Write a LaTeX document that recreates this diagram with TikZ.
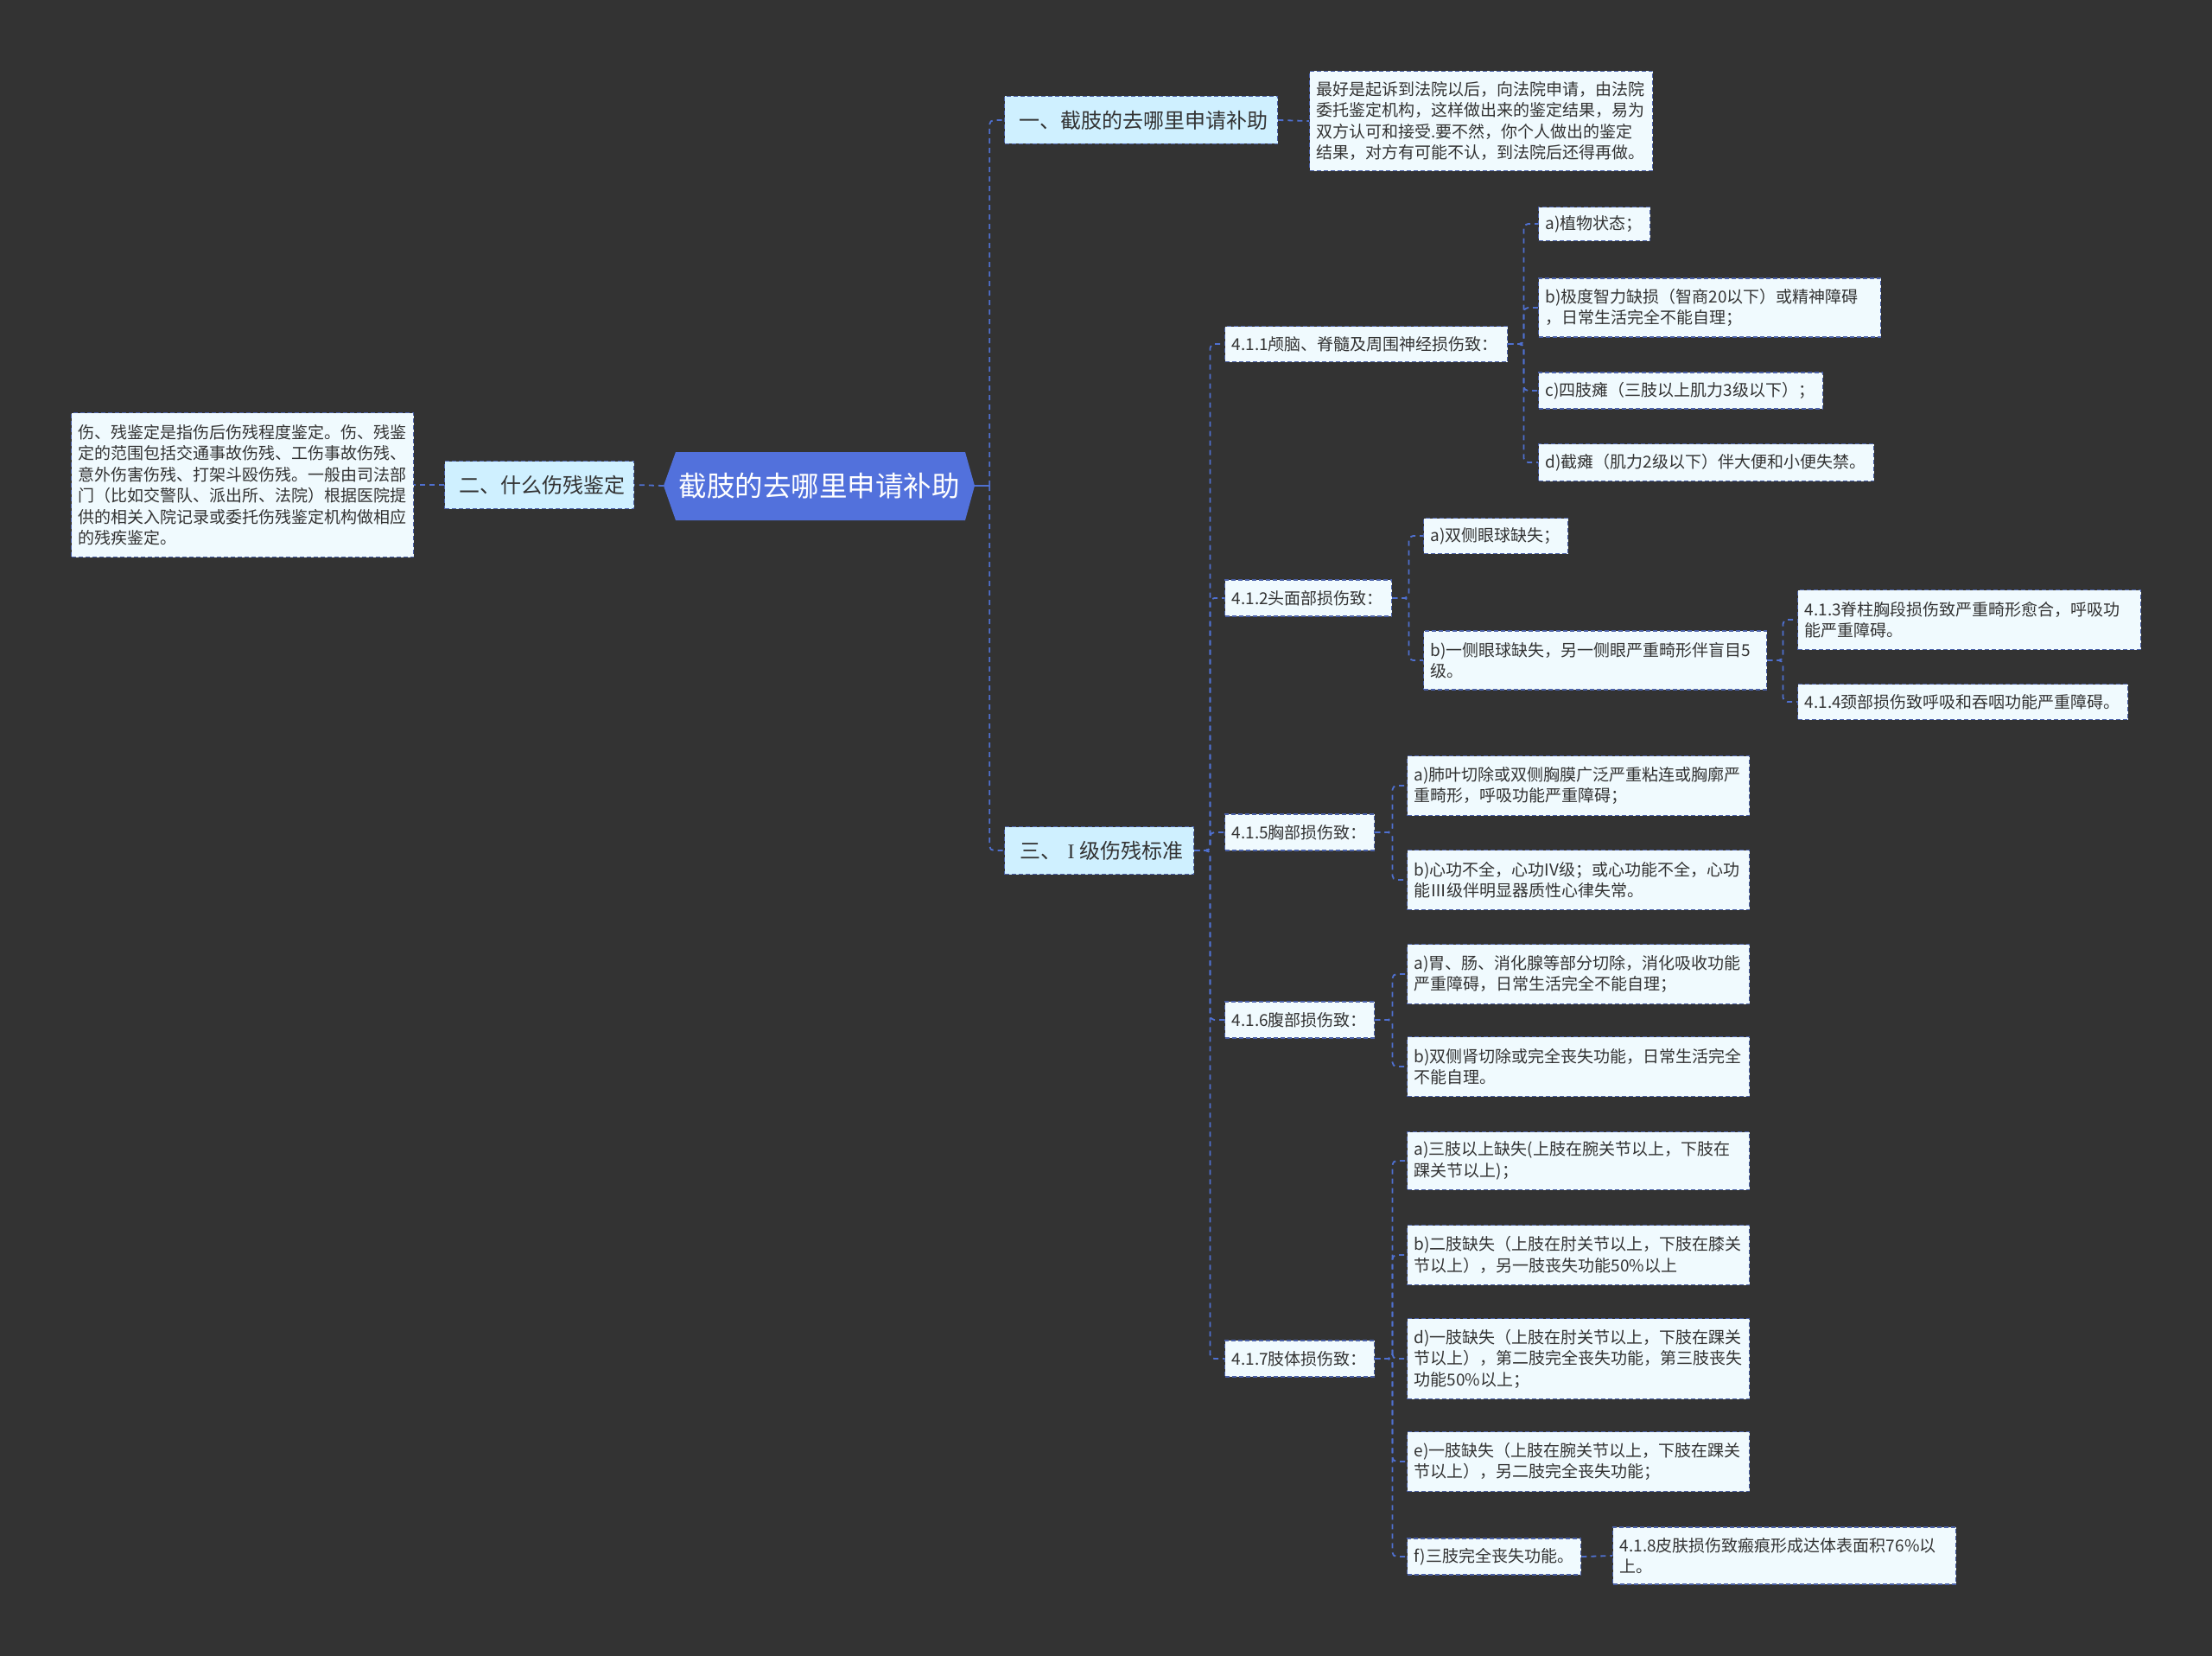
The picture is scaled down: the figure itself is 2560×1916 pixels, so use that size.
\documentclass[tikz,border=0pt]{standalone}
\usepackage{fontspec}
\setmainfont{Noto Sans CJK SC}
\newfontfamily\serifI{Liberation Serif}
\usetikzlibrary{calc}
\definecolor{bgc}{HTML}{333333}
\definecolor{leaffill}{HTML}{F0FAFE}
\definecolor{lvlfill}{HTML}{CFF0FF}
\definecolor{bordc}{HTML}{4B61A8}
\definecolor{connc}{HTML}{4F70D0}
\definecolor{txtc}{HTML}{333333}
\definecolor{rootc}{HTML}{5271DC}
\begin{document}
\begin{tikzpicture}[x=1pt,y=-1pt,
  leaf/.style={draw=bordc, line width=1.4pt, dash pattern=on 5pt off 3pt, fill=leaffill, text=txtc,
    font=\fontsize{19}{24.5}\selectfont, align=left, inner xsep=8pt, inner ysep=0pt, anchor=west},
  lvl/.style={draw=bordc, line width=1.4pt, dash pattern=on 5pt off 3pt, fill=lvlfill, text=txtc,
    font=\fontsize{24}{30}\selectfont, align=left, inner xsep=0pt, inner ysep=0pt, anchor=west,
    minimum height=55pt},
  conn/.style={draw=connc, line width=1.8pt, dash pattern=on 6pt off 5pt, rounded corners=5pt},
  solidc/.style={draw=connc, line width=2pt}
]
\fill[bgc] (0,0) rectangle (2560,1916);
\useasboundingbox (0,0) rectangle (2560,1916);

% root
\fill[rootc] (768,562) -- (782,523) -- (1117,523) -- (1128,562) -- (1117,602) -- (782,602) -- cycle;
\node[text=white, font=\fontsize{32.5}{38}\selectfont, minimum width=360pt, minimum height=79pt, inner sep=0pt] (root) at (948,562) {截肢的去哪里申请补助};

% level 1
\node[lvl, minimum width=219pt] (er) at (514,561) {\hspace*{6pt}二、什么伤残鉴定};
\node[lvl, minimum width=316pt] (yi) at (1162,139) {\hspace*{6pt}一、截肢的去哪里申请补助};
\node[lvl, minimum width=219pt] (san) at (1162,984) {\hspace*{6pt}三、\hspace{7pt}{\serifI I}\hspace{6pt}级伤残标准};

% texts
\node[leaf, text width=380pt, minimum height=167pt] (ertxt) at (82,561) {伤、残鉴定是指伤后伤残程度鉴定。伤、残鉴\\定的范围包括交通事故伤残、工伤事故伤残、\\意外伤害伤残、打架斗殴伤残。一般由司法部\\门（比如交警队、派出所、法院）根据医院提\\供的相关入院记录或委托伤残鉴定机构做相应\\的残疾鉴定。};
\node[leaf, text width=381pt, minimum height=115pt] (yitxt) at (1515,140) {最好是起诉到法院以后，向法院申请，由法院\\委托鉴定机构，这样做出来的鉴定结果，易为\\双方认可和接受.要不然，你个人做出的鉴定\\结果，对方有可能不认，到法院后还得再做。};

% 4.1.x
\node[leaf, text width=311pt, minimum height=41pt] (n411) at (1417,398) {4.1.1颅脑、脊髓及周围神经损伤致：};
\node[leaf, text width=113pt, minimum height=39pt] (a411) at (1780,259) {a)植物状态；};
\node[leaf, text width=380pt, minimum height=68pt] (b411) at (1780,356) {b)极度智力缺损（智商20以下）或精神障碍\\，日常生活完全不能自理；};
\node[leaf, text width=313pt, minimum height=42pt] (c411) at (1780,452) {c)四肢瘫（三肢以上肌力3级以下）；};
\node[leaf, text width=372pt, minimum height=43pt] (d411) at (1780,535) {d)截瘫（肌力2级以下）伴大便和小便失禁。};

\node[leaf, text width=177pt, minimum height=42pt] (n412) at (1417,692) {4.1.2头面部损伤致：};
\node[leaf, text width=151pt, minimum height=41pt] (a412) at (1647,620) {a)双侧眼球缺失；};
\node[leaf, text width=381pt, minimum height=68pt] (b412) at (1647,764) {b)一侧眼球缺失，另一侧眼严重畸形伴盲目5\\级。};
\node[leaf, text width=381pt, minimum height=69pt] (n413) at (2080,717) {4.1.3脊柱胸段损伤致严重畸形愈合，呼吸功\\能严重障碍。};
\node[leaf, text width=366pt, minimum height=41pt] (n414) at (2080,812) {4.1.4颈部损伤致呼吸和吞咽功能严重障碍。};

\node[leaf, text width=157pt, minimum height=42pt] (n415) at (1417,963) {4.1.5胸部损伤致：};
\node[leaf, text width=380pt, minimum height=69pt] (a415) at (1628,909) {a)肺叶切除或双侧胸膜广泛严重粘连或胸廓严\\重畸形，呼吸功能严重障碍；};
\node[leaf, text width=380pt, minimum height=69pt] (b415) at (1628,1018) {b)心功不全，心功IV级；或心功能不全，心功\\能Ⅲ级伴明显器质性心律失常。};

\node[leaf, text width=157pt, minimum height=42pt] (n416) at (1417,1180) {4.1.6腹部损伤致：};
\node[leaf, text width=380pt, minimum height=69pt] (a416) at (1628,1127) {a)胃、肠、消化腺等部分切除，消化吸收功能\\严重障碍，日常生活完全不能自理；};
\node[leaf, text width=380pt, minimum height=69pt] (b416) at (1628,1234) {b)双侧肾切除或完全丧失功能，日常生活完全\\不能自理。};

\node[leaf, text width=157pt, minimum height=42pt] (n417) at (1417,1572) {4.1.7肢体损伤致：};
\node[leaf, text width=380pt, minimum height=67pt] (a417) at (1628,1343) {a)三肢以上缺失(上肢在腕关节以上，下肢在\\踝关节以上)；};
\node[leaf, text width=380pt, minimum height=69pt] (b417) at (1628,1452) {b)二肢缺失（上肢在肘关节以上，下肢在膝关\\节以上），另一肢丧失功能50\%以上};
\node[leaf, text width=380pt, minimum height=93pt] (d417) at (1628,1572) {d)一肢缺失（上肢在肘关节以上，下肢在踝关\\节以上），第二肢完全丧失功能，第三肢丧失\\功能50\%以上；};
\node[leaf, text width=380pt, minimum height=69pt] (e417) at (1628,1691) {e)一肢缺失（上肢在腕关节以上，下肢在踝关\\节以上），另二肢完全丧失功能；};
\node[leaf, text width=185pt, minimum height=42pt] (f417) at (1628,1801) {f)三肢完全丧失功能。};
\node[leaf, text width=381pt, minimum height=66pt] (n418) at (1866,1800) {4.1.8皮肤损伤致瘢痕形成达体表面积76\%以\\上。};

% connectors
\draw[conn] (root.west) -- (er.east);
\draw[conn] (er.west) -- (ertxt.east);
\draw[solidc] (root.east) -- ++(17,0);
\draw[conn] (root.east) ++(17,0) |- (yi.west);
\draw[conn] (root.east) ++(17,0) |- (san.west);
\draw[conn] (yi.east) -- (yitxt.west);
\foreach \c in {n411,n412,n415,n416,n417}
  \draw[conn] (san.east) -- ++(18,0) |- (\c.west);
\foreach \c in {a411,b411,c411,d411}
  \draw[conn] (n411.east) -- ++(18,0) |- (\c.west);
\foreach \c in {a412,b412}
  \draw[conn] (n412.east) -- ++(19,0) |- (\c.west);
\foreach \c in {n413,n414}
  \draw[conn] (b412.east) -- ++(18,0) |- (\c.west);
\foreach \c in {a415,b415}
  \draw[conn] (n415.east) -- ++(20,0) |- (\c.west);
\foreach \c in {a416,b416}
  \draw[conn] (n416.east) -- ++(20,0) |- (\c.west);
\foreach \c in {a417,b417,d417,e417,f417}
  \draw[conn] (n417.east) -- ++(20,0) |- (\c.west);
\draw[conn] (f417.east) -- (n418.west);
\end{tikzpicture}
\end{document}
